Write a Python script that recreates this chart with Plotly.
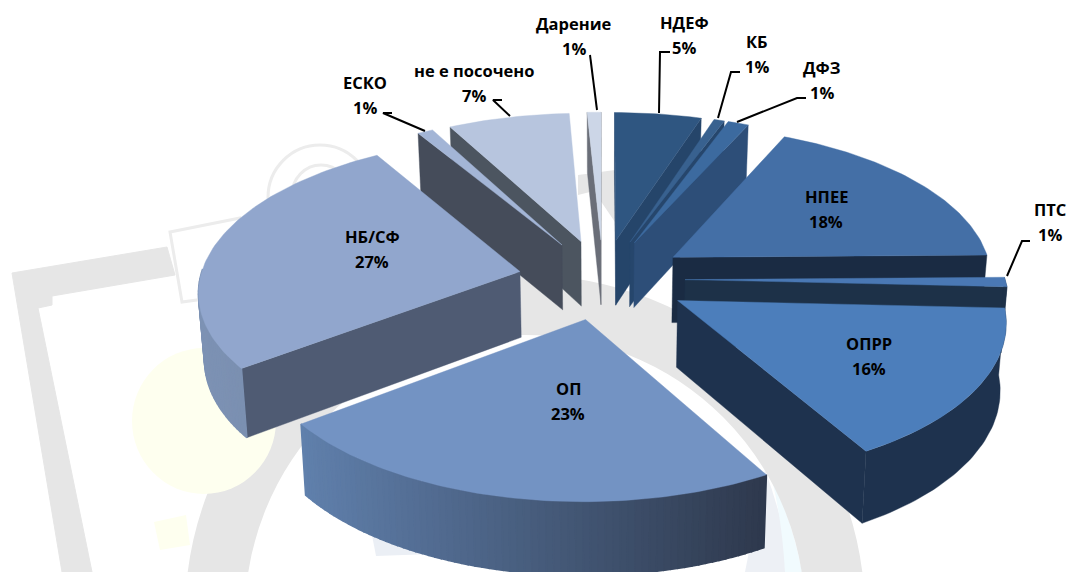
import numpy as np
import plotly.graph_objects as go

# ---- data ----
names = ["НДЕФ", "КБ", "ДФЗ", "НПЕЕ", "ПТС", "ОПРР", "ОП", "НБ/СФ", "ЕСКО", "не е посочено", "Дарение"]
values = [5, 0.6, 1.2, 18, 1, 16, 23, 26.7, 0.9, 7, 0.8]
shown_percent = [5, 1, 1, 18, 1, 16, 23, 27, 1, 7, 1]

# ---- styles ----
top_colors = ["#2f5681", "#38618f", "#3c6a9f", "#446fa6", "#4a78b4", "#4c7ebb", "#7393c3", "#91a6cd", "#a3b5d6", "#b7c5de", "#ccd6e7"]
wall_colors = ["#25456a", "#26466c", "#2d4e78", "#1a2b43", "#1d3148", "#1e324e", "#3a4862", "#4f5b73", "#454c5a", "#4c5560", "#6a6e78"]
rim_left = ["#2f5681", "#38618f", "#2d4e78", "#1a2b43", "#1d3148", "#1e324e", "#6080ac", "#7d92b4", "#454c5a", "#4c5560", "#6a6e78"]
rim_right = ["#2f5681", "#38618f", "#2d4e78", "#1a2b43", "#1d3148", "#1e324e", "#2e394d", "#7488a8", "#454c5a", "#4c5560", "#6a6e78"]
explode = [85, 85, 85, 85, 82, 86, 85, 85, 85, 85, 85]

CX, CY, R, HEIGHT = 603, 279, 320, 66
Q, K, BOTTOM_SHRINK = 0.472, 0.00036, 0.985
LINE_GAP = 12.3

label_xy = {
    "НДЕФ": (684, 35), "КБ": (757, 54), "ДФЗ": (822, 80), "НПЕЕ": (826, 209), "ПТС": (1050, 222),
    "ОПРР": (869, 356), "ОП": (568, 401), "НБ/СФ": (372, 249), "ЕСКО": (365, 95),
    "не е посочено": (474, 83), "Дарение": (574, 36),
}
leaders = [
    ([392, 383, 425], [113, 113, 131]),
    ([502, 493, 510], [100, 100, 116]),
    ([590, 597], [55, 110]),
    ([670, 660, 659], [52, 52, 113]),
    ([740, 731, 718], [72, 72, 118]),
    ([806, 797, 737], [98, 98, 122]),
    ([1030, 1022, 1007], [241, 241, 276]),
]


def project(X, V, bottom=False):
    s = 1 / (1 - np.asarray(V, float) * K)
    X, V = np.asarray(X, float), np.asarray(V, float)
    if bottom:
        return CX + X * s * BOTTOM_SHRINK, CY + V * Q * s * BOTTOM_SHRINK + HEIGHT * s
    return CX + X * s, CY + V * Q * s


def hex_mix(a, b, t):
    ca = [int(a[i:i + 2], 16) for i in (1, 3, 5)]
    cb = [int(b[i:i + 2], 16) for i in (1, 3, 5)]
    return "#%02x%02x%02x" % tuple(round(p + (q - p) * t) for p, q in zip(ca, cb))


fig = go.Figure()


def poly(x, y, color, lw=0.4):
    fig.add_trace(go.Scatter(x=list(x) + [x[0]], y=list(y) + [y[0]], mode="lines", fill="toself",
                             fillcolor=color, line=dict(color=color, width=lw),
                             hoverinfo="skip", showlegend=False))


total = sum(values)
cum = np.cumsum([0] + values) / total * 2 * np.pi
slices = []
for i, name in enumerate(names):
    a0, a1 = cum[i], cum[i + 1]
    mid = (a0 + a1) / 2
    ox, ov = explode[i] * np.sin(mid), -explode[i] * np.cos(mid)
    slices.append(dict(i=i, a0=a0, a1=a1, ox=ox, ov=ov, depth=ov + 0.6 * R * -np.cos(mid)))

for sl in sorted(slices, key=lambda s: s["depth"]):
    i, a0, a1, ox, ov = sl["i"], sl["a0"], sl["a1"], sl["ox"], sl["ov"]
    n = max(4, int((a1 - a0) / 0.02))
    th = np.linspace(a0, a1, n + 1)
    rx, rv = ox + R * np.sin(th), ov - R * np.cos(th)
    # radial walls that face the viewer
    for ang, sign, ex, ev in ((a0, -1, rx[0], rv[0]), (a1, 1, rx[-1], rv[-1])):
        nx, nv = sign * np.cos(ang), sign * np.sin(ang)
        if nx * (0 - ox) + nv * (1 / K - ov) <= 0:
            continue
        tx, ty = project([ox, ex], [ov, ev])
        bx, by = project([ox, ex], [ov, ev], bottom=True)
        poly([tx[0], tx[1], bx[1], bx[0]], [ty[0], ty[1], by[1], by[0]], wall_colors[i])
    # outer rim, front-facing part only
    tx, ty = project(rx, rv)
    bx, by = project(rx, rv, bottom=True)
    lo, hi = tx.min(), tx.max()
    front = np.where(np.cos(th) <= 0.02)[0]
    if len(front) > 1:
        f0, f1 = front[0], front[-1] + 1
        if rim_left[i] == rim_right[i]:
            poly(list(tx[f0:f1]) + list(bx[f0:f1][::-1]), list(ty[f0:f1]) + list(by[f0:f1][::-1]), rim_left[i])
        else:
            # strips drawn left to right, each overlapping the next, so the rim shades smoothly
            idx = np.arange(f0, f1 - 1)
            for j in idx[np.argsort(tx[idx] + tx[idx + 1])]:
                t = ((tx[j] + tx[j + 1]) / 2 - lo) / max(hi - lo, 1)
                poly([tx[j], tx[j + 1], bx[j + 1], bx[j]], [ty[j], ty[j + 1], by[j + 1], by[j]],
                     hex_mix(rim_left[i], rim_right[i], t), lw=1.5)
    # top face
    ax, ay = project([ox], [ov])
    poly([ax[0]] + list(tx), [ay[0]] + list(ty), top_colors[i])

for lx, ly in leaders:
    fig.add_trace(go.Scatter(x=lx, y=ly, mode="lines", line=dict(color="black", width=2),
                             hoverinfo="skip", showlegend=False))

for name, pct in zip(names, shown_percent):
    x, y = label_xy[name]
    for txt, dy in ((name, -LINE_GAP), (f"{pct}%", LINE_GAP)):
        fig.add_annotation(x=x, y=y + dy, text=txt, showarrow=False,
                           font=dict(family="Open Sans", size=16.5, color="black", weight=700), align="center")

GREY = "#e6e6e6"
shapes = [
    dict(type="path", path="M745,572 L765,470 Q782,515 792,572 Z", fillcolor="#edf0f5", line=dict(width=0)),
    dict(type="path", path="M772,480 Q792,520 802,572 L785,572 Q782,520 772,480 Z", fillcolor="#f1fbfe", line=dict(width=0)),
    dict(type="circle", x0=215, x1=835, y0=305, y1=925, line=dict(color=GREY, width=60)),
    dict(type="path", path="M578,175 L615,170 L615,222 L600,200 L598,190 L578,195 Z", fillcolor=GREY, line=dict(width=0)),
    dict(type="path", path="M12,273 L167,247 L175,275 L52,296 L52,305 L38,308 L92,572 L62,572 Z",
         fillcolor=GREY, line=dict(color=GREY, width=1)),
    dict(type="path", path="M170,232 L240,218 L270,290 L182,302 Z", fillcolor="white",
         line=dict(color="#ececec", width=3)),
    dict(type="circle", x0=268, x1=372, y0=145, y1=250, line=dict(color="#ececec", width=3)),
    dict(type="circle", x0=292, x1=350, y0=165, y1=225, line=dict(color="#ececec", width=3)),
    dict(type="circle", x0=132, x1=276, y0=348, y1=494, fillcolor="#feffef", line=dict(width=0)),
    dict(type="path", path="M154,522 L186,515 L190,545 L160,550 Z", fillcolor="#feffef", line=dict(width=0)),
    dict(type="path", path="M372,535 L440,540 L460,553 L376,556 Z", fillcolor="#ebeff5", line=dict(width=0)),
]
for s in shapes:
    s.update(layer="below", xref="x", yref="y")

fig.update_layout(
    width=1069, height=572, margin=dict(l=0, r=0, t=0, b=0), autosize=False,
    paper_bgcolor="white", plot_bgcolor="white", shapes=shapes, showlegend=False,
    xaxis=dict(range=[0, 1069], visible=False, fixedrange=True),
    yaxis=dict(range=[572, 0], visible=False, fixedrange=True),
)
fig.write_html("out.html", config={"displayModeBar": False},
               post_script="document.body.style.margin='0';document.body.style.overflow='hidden';")
